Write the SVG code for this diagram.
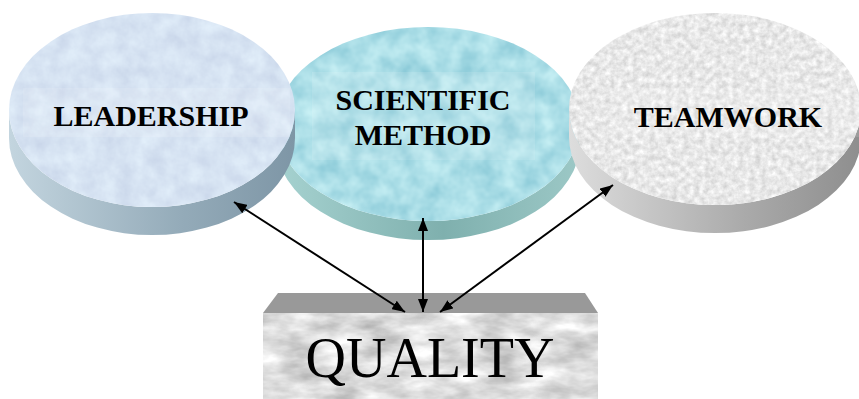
<svg xmlns="http://www.w3.org/2000/svg" width="859" height="399" viewBox="0 0 859 399">
  <style>
    .label { font-family: "Liberation Serif", "Times New Roman", serif; font-weight: bold; font-size: 30px; fill: #000; text-anchor: middle; }
    .big { font-family: "Liberation Serif", "Times New Roman", serif; font-size: 56px; fill: #000; text-anchor: middle; }
    .link { stroke: #000; stroke-width: 2; fill: none; marker-start: url(#head); marker-end: url(#head); }
    .band { fill: #ffffff; opacity: 0.12; }
    filter { color-interpolation-filters: sRGB; }
  </style>
  <defs>
    <!-- surface textures -->
    <filter id="frost" x="0" y="0" width="1" height="1">
      <feTurbulence type="fractalNoise" baseFrequency="0.06" numOctaves="4" seed="3"/>
      <feColorMatrix type="matrix" values="0.12 0 0 0 0.78  0.12 0 0 0 0.83  0.08 0 0 0 0.91  0 0 0 0 1"/>
      <feComposite in2="SourceGraphic" operator="in"/>
    </filter>
    <filter id="drops" x="0" y="0" width="1" height="1">
      <feTurbulence type="fractalNoise" baseFrequency="0.05" numOctaves="3" seed="7"/>
      <feColorMatrix type="matrix" values="0.32 0 0 0 0.51  0.2 0 0 0 0.77  0.15 0 0 0 0.83  0 0 0 0 1"/>
      <feComposite in2="SourceGraphic" operator="in"/>
    </filter>
    <filter id="granite" x="0" y="0" width="1" height="1">
      <feTurbulence type="fractalNoise" baseFrequency="0.18" numOctaves="3" seed="11"/>
      <feColorMatrix type="matrix" values="0.25 0 0 0 0.785  0.25 0 0 0 0.785  0.25 0 0 0 0.785  0 0 0 0 1"/>
      <feComposite in2="SourceGraphic" operator="in"/>
    </filter>
    <filter id="marble" x="0" y="0" width="1" height="1">
      <feTurbulence type="fractalNoise" baseFrequency="0.025 0.06" numOctaves="4" seed="5"/>
      <feColorMatrix type="matrix" values="0.45 0 0 0 0.645  0.45 0 0 0 0.645  0.45 0 0 0 0.645  0 0 0 0 1"/>
      <feComposite in2="SourceGraphic" operator="in"/>
    </filter>
    <!-- rim shading -->
    <linearGradient id="rimBlue" x1="0" y1="0" x2="1" y2="0">
      <stop offset="0" stop-color="#c3d5df"/>
      <stop offset="0.6" stop-color="#94abb9"/>
      <stop offset="1" stop-color="#7e96a6"/>
    </linearGradient>
    <linearGradient id="rimTeal" x1="0" y1="0" x2="1" y2="0">
      <stop offset="0" stop-color="#a6d2d0"/>
      <stop offset="0.55" stop-color="#7fb0ae"/>
      <stop offset="1" stop-color="#9cc8c6"/>
    </linearGradient>
    <linearGradient id="rimGray" x1="0" y1="0" x2="1" y2="0">
      <stop offset="0" stop-color="#dddddd"/>
      <stop offset="0.6" stop-color="#aaaaaa"/>
      <stop offset="1" stop-color="#8e8e8e"/>
    </linearGradient>
    <marker id="head" viewBox="0 0 13 10" refX="13" refY="5" markerWidth="13" markerHeight="10" markerUnits="userSpaceOnUse" orient="auto-start-reverse">
      <path d="M0 0 L13 5 L0 10 Z" fill="#000"/>
    </marker>
  </defs>

  <!-- middle disc sits behind its neighbours -->
  <g id="scientific-method">
    <path d="M276 124 A152 97 0 0 0 580 124 L580 143 A152 97 0 0 1 276 143 Z" fill="url(#rimTeal)"/>
    <ellipse cx="428" cy="124" rx="152" ry="97" fill="#a9dde6" filter="url(#drops)"/>
    <rect class="band" x="312" y="72" width="223" height="88"/>
    <text class="label" x="423" y="110">SCIENTIFIC</text>
    <text class="label" x="423" y="145">METHOD</text>
  </g>

  <g id="leadership">
    <path d="M9 110 A143 97 0 0 0 295 110 L295 138 A143 97 0 0 1 9 138 Z" fill="url(#rimBlue)"/>
    <ellipse cx="152" cy="110" rx="143" ry="97" fill="#d6e4f3" filter="url(#frost)"/>
    <rect class="band" x="23" y="88" width="267" height="49"/>
    <text class="label" x="151" y="126">LEADERSHIP</text>
  </g>

  <g id="teamwork">
    <path d="M569 109 A146 96 0 0 0 861 109 L861 137 A146 96 0 0 1 569 137 Z" fill="url(#rimGray)"/>
    <ellipse cx="715" cy="109" rx="146" ry="96" fill="#ececec" filter="url(#granite)"/>
    <rect class="band" x="610" y="88" width="249" height="49"/>
    <text class="label" x="728" y="127">TEAMWORK</text>
  </g>

  <g id="quality">
    <polygon points="278,293 585,293 598,313 263,313" fill="#999999"/>
    <rect x="263" y="313" width="335" height="86" fill="#d8d8d8" filter="url(#marble)"/>
    <text class="big" x="430" y="377">QUALITY</text>
  </g>

  <g id="connectors">
    <line class="link" x1="234" y1="202" x2="405" y2="312"/>
    <line class="link" x1="423" y1="218" x2="423" y2="312"/>
    <line class="link" x1="613" y1="185" x2="440" y2="312"/>
  </g>
</svg>
